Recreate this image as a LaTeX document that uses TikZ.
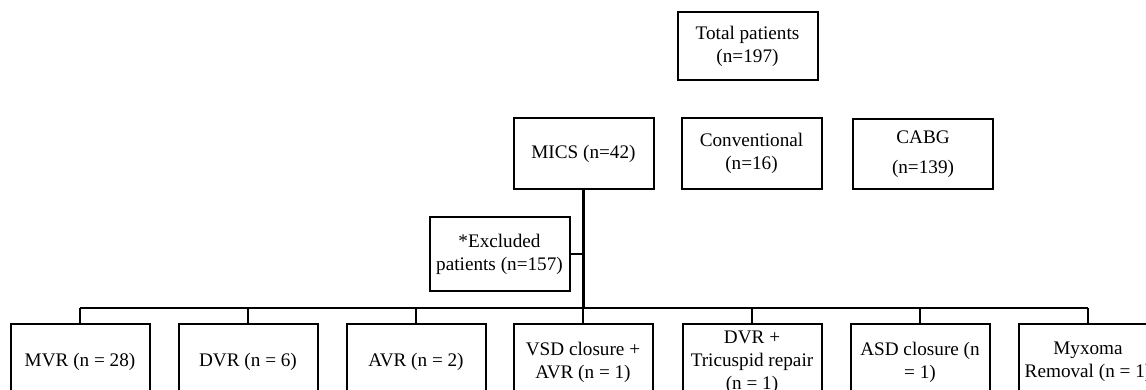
\documentclass[tikz,border=0pt]{standalone}
\usepackage{fontspec}
\setmainfont{Liberation Serif}
\usepackage{tikz}
\usetikzlibrary{positioning}

\begin{document}
\begin{tikzpicture}[x=0.5pt, y=-0.5pt,
    box/.style={draw, line width=1pt, align=center, inner sep=1pt,
        font=\fontsize{9.6}{11.5}\selectfont},
    topbox/.style={box, minimum width=70pt, minimum height=35pt},
    subbox/.style={box, minimum width=69.5pt, minimum height=38pt},
    link/.style={line width=0.7pt},
    trunk/.style={line width=1.7pt}]
    \useasboundingbox (0,0) rectangle (1146,390);
    \clip (0,0) rectangle (1146,390);

    % Top levels
    \node[topbox, minimum height=34pt] (total) at (747.5,46) {Total patients\\(n=197)};
    \node[topbox] (mics) at (583.5,153.5) {MICS (n=42)};
    \node[topbox] (conv) at (751.5,153.5) {Conventional\\(n=16)};
    \node[topbox, font=\fontsize{9.6}{15}\selectfont] (cabg) at (923,154) {CABG\\(n=139)};

    % Excluded
    \node[topbox, minimum height=37pt] (excl) at (499.5,254) {*Excluded\\patients (n=157)};

    % Procedures
    \foreach \name/\x/\txt in {mvr/80/{MVR (n = 28)}, dvr/248/{DVR (n = 6)},
        avr/416/{AVR (n = 2)}, vsd/583/{VSD closure +\\AVR (n = 1)},
        tric/752/{DVR +\\Tricuspid repair\\(n = 1)}, asd/920/{ASD closure (n\\= 1)},
        myx/1088/{Myxoma\\Removal (n = 1)}} {
        \node[subbox] (\name) at (\x,362) {\txt};
    }

    \coordinate (bus) at (583,308);
    \draw[trunk] (mics.south) -- (mics.south |- bus);
    \draw[link] (excl.east) -- (excl.east -| mics.south);
    \draw[link] (mvr.north |- bus) -- (myx.north |- bus);
    \foreach \name in {mvr, dvr, avr, vsd, tric, asd, myx} {
        \draw[link] (\name.north) -- (\name.north |- bus);
    }
\end{tikzpicture}
\end{document}
